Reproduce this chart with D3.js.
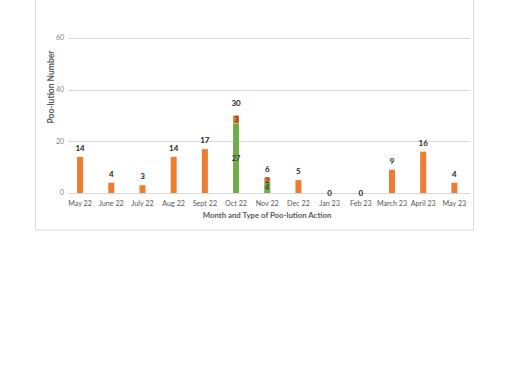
<!DOCTYPE html>
<html>
<head>
<meta charset="utf-8">
<script src="https://cdn.jsdelivr.net/npm/d3@7"></script>
<style>
  body { margin: 0; background: #fff; }
  svg { display: block; font-family: Lato, "Open Sans", sans-serif; }
</style>
</head>
<body>
<div id="chart"></div>
<script>
// data
const months = ["May 22", "June 22", "July 22", "Aug 22", "Sept 22", "Oct 22", "Nov 22",
  "Dec 22", "Jan 23", "Feb 23", "March 23", "April 23", "May 23"];
const greenVals  = [0, 0, 0, 0, 0, 27, 4, 0, 0, 0, 0, 0, 0];
const orangeVals = [14, 4, 3, 14, 17, 3, 2, 5, 0, 0, 9, 16, 4];
const yTicks = [0, 20, 40, 60];

const W = 510, H = 382;
const svg = d3.select("#chart").append("svg")
  .attr("width", W).attr("height", H);

// chart frame (top runs off the page)
svg.append("rect")
  .attr("x", 35.5).attr("y", -5)
  .attr("width", 438).attr("height", 235)
  .attr("fill", "#fff")
  .attr("stroke", "#d9d9d9")
  .attr("stroke-width", 1);

const x = d3.scaleBand()
  .domain(months)
  .range([64.5, 470]);

const y = d3.scaleLinear()
  .domain([0, 60])
  .range([193, 38]);

const barW = 6;

// gridlines
svg.append("g")
  .selectAll("line")
  .data(yTicks)
  .join("line")
    .attr("x1", 68).attr("x2", 470)
    .attr("y1", d => Math.round(y(d)) + 0.5)
    .attr("y2", d => Math.round(y(d)) + 0.5)
    .attr("stroke", "#d9d9d9")
    .attr("stroke-width", 1);

// y tick labels
svg.append("g")
  .selectAll("text")
  .data(yTicks)
  .join("text")
    .attr("x", 64)
    .attr("y", d => y(d))
    .attr("dy", "0.35em")
    .attr("text-anchor", "end")
    .attr("fill", "#7f7f7f")
    .style("font-size", "7px")
    .text(d => d);

// stacked bars: green at the bottom, orange on top
const rows = months.map((m, i) => ({ m, g: greenVals[i], o: orangeVals[i] }));

svg.append("g")
  .selectAll("rect")
  .data(rows.filter(d => d.g > 0))
  .join("rect")
    .attr("x", d => x(d.m) + x.bandwidth() / 2 - barW / 2)
    .attr("width", barW)
    .attr("y", d => y(d.g))
    .attr("height", d => y(0) - y(d.g))
    .attr("fill", "#70ad47");

svg.append("g")
  .selectAll("rect")
  .data(rows.filter(d => d.o > 0))
  .join("rect")
    .attr("x", d => x(d.m) + x.bandwidth() / 2 - barW / 2)
    .attr("width", barW)
    .attr("y", d => y(d.g + d.o))
    .attr("height", d => y(d.g) - y(d.g + d.o))
    .attr("fill", "#ed7d31");

// segment labels inside the stacked bars
const stacked = rows.filter(d => d.g > 0);
svg.append("g")
  .selectAll("text")
  .data(stacked.flatMap(d => [
    { m: d.m, v: d.g, mid: d.g / 2 },
    { m: d.m, v: d.o, mid: d.g + d.o / 2 }
  ]))
  .join("text")
    .attr("x", d => x(d.m) + x.bandwidth() / 2)
    .attr("y", d => y(d.mid))
    .attr("dy", "0.35em")
    .attr("text-anchor", "middle")
    .attr("fill", "#404040")
    .style("font-size", "7.5px")
    .style("font-weight", "bold")
    .text(d => d.v);

// total labels
svg.append("g")
  .selectAll("text")
  .data(rows)
  .join("text")
    .attr("x", d => x(d.m) + x.bandwidth() / 2)
    .attr("y", d => d.g + d.o === 0 ? y(0) + 3 : y(d.g + d.o) - (d.g > 20 ? 10 : 6))
    .attr("text-anchor", "middle")
    .attr("fill", "#262626")
    .style("font-size", "8px")
    .style("font-weight", "bold")
    .text(d => d.g + d.o);

// x axis category labels
svg.append("g")
  .selectAll("text")
  .data(months)
  .join("text")
    .attr("x", d => x(d) + x.bandwidth() / 2)
    .attr("y", 203)
    .attr("dy", "0.35em")
    .attr("text-anchor", "middle")
    .attr("fill", "#595959")
    .style("font-size", "7.2px")
    .text(d => d);

// axis titles
svg.append("text")
  .attr("x", 267).attr("y", 215)
  .attr("dy", "0.35em")
  .attr("text-anchor", "middle")
  .attr("fill", "#595959")
  .style("font-size", "7.8px")
  .style("font-weight", "bold")
  .text("Month and Type of Poo-lution Action");

svg.append("text")
  .attr("transform", "translate(51,87) rotate(-90)")
  .attr("dy", "0.35em")
  .attr("text-anchor", "middle")
  .attr("fill", "#595959")
  .style("font-size", "8.5px")
  .style("font-weight", "bold")
  .text("Poo-lution Number");
</script>
</body>
</html>
